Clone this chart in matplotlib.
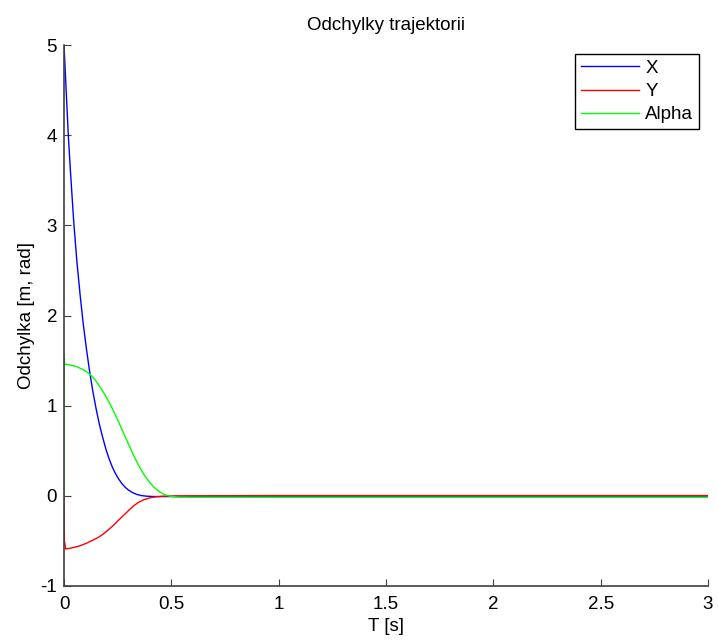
import matplotlib
matplotlib.use("Agg")
import matplotlib.pyplot as plt

plt.rcParams["font.family"] = ["Liberation Sans", "DejaVu Sans"]
plt.rcParams["font.size"] = 13.5
plt.rcParams["axes.unicode_minus"] = False

# X deviation (blue)
t_x = [0, 0.01, 0.02, 0.03, 0.045, 0.06, 0.075, 0.09, 0.105, 0.12, 0.135, 0.15,
       0.165, 0.18, 0.195, 0.21, 0.225, 0.24, 0.255, 0.27, 0.285, 0.30, 0.32,
       0.34, 0.36, 0.385, 0.42, 1.0, 2.0, 3.0]
x_dev = [5.0, 4.5, 4.0, 3.6, 3.05, 2.6, 2.23, 1.9, 1.62, 1.37, 1.15, 0.96,
         0.79, 0.65, 0.52, 0.41, 0.32, 0.245, 0.185, 0.135, 0.095, 0.065, 0.035,
         0.015, 0.003, -0.004, -0.008, -0.008, -0.008, -0.008]

# Y deviation (red)
t_y = [0, 0.002, 0.008, 0.03, 0.05, 0.073, 0.1, 0.136, 0.16, 0.182, 0.205, 0.229,
       0.252, 0.276, 0.3, 0.322, 0.345, 0.37, 0.4, 0.43, 0.47, 0.52, 1.0, 2.0, 3.0]
y_dev = [0, -0.5, -0.59, -0.58, -0.57, -0.555, -0.53, -0.49, -0.46, -0.425, -0.38, -0.33,
         -0.275, -0.22, -0.165, -0.115, -0.075, -0.045, -0.022, -0.01, -0.003, 0.0, 0.003, 0.003, 0.003]

# Alpha deviation (green)
t_a = [0, 0.0008, 0.003, 0.02, 0.04, 0.058, 0.08, 0.1, 0.12, 0.145, 0.167, 0.19,
       0.214, 0.237, 0.26, 0.283, 0.307, 0.33, 0.354, 0.377, 0.40, 0.424, 0.448,
       0.47, 0.495, 0.53, 0.6, 1.0, 2.0, 3.0]
a_dev = [0, 1.57, 1.46, 1.455, 1.445, 1.433, 1.41, 1.385, 1.35, 1.285, 1.21, 1.125,
         1.02, 0.91, 0.79, 0.665, 0.54, 0.42, 0.31, 0.22, 0.145, 0.085, 0.04,
         0.012, -0.005, -0.013, -0.015, -0.015, -0.015, -0.015]

x_ticks = [0, 0.5, 1, 1.5, 2, 2.5, 3]
x_tick_labels = ["0", "0.5", "1", "1.5", "2", "2.5", "3"]
y_ticks = [-1, 0, 1, 2, 3, 4, 5]

fig = plt.figure(figsize=(7.18, 6.41), dpi=100)
ax = fig.add_axes([64 / 718, 1 - 586 / 641, 644 / 718, 541 / 641])

ax.plot(t_x, x_dev, color="#0000ff", linewidth=1, label="X")
ax.plot(t_y, y_dev, color="#ff0000", linewidth=1, label="Y")
ax.plot(t_a, a_dev, color="#00ff00", linewidth=1, label="Alpha")

ax.set_xlim(0, 3)
ax.set_ylim(-1, 5)
ax.set_xticks(x_ticks)
ax.set_xticklabels(x_tick_labels)
ax.set_yticks(y_ticks)
ax.tick_params(direction="in", length=5, width=0.8, color="#404040", labelsize=13.5)
ax.tick_params(axis="x", pad=7)
ax.tick_params(axis="y", pad=5)

for side in ("top", "right"):
    ax.spines[side].set_visible(False)
for side in ("left", "bottom"):
    ax.spines[side].set_color("#404040")
    ax.spines[side].set_linewidth(1.2)

ax.set_title("Odchylky trajektorii", fontsize=13.5, pad=11)
ax.set_xlabel("T [s]", fontsize=13.5, labelpad=4)
ax.set_ylabel("Odchylka [m, rad]", fontsize=13.5, labelpad=4)

leg = ax.legend(loc="upper right", bbox_to_anchor=(635 / 644, 1 - 9 / 541), fontsize=13.5,
                frameon=True, fancybox=False, edgecolor="black", framealpha=1,
                handlelength=3.1, handletextpad=0.35, borderpad=0.3, labelspacing=0.33,
                borderaxespad=0)
leg.get_frame().set_linewidth(1.0)

fig.savefig("out.png", dpi=100)
